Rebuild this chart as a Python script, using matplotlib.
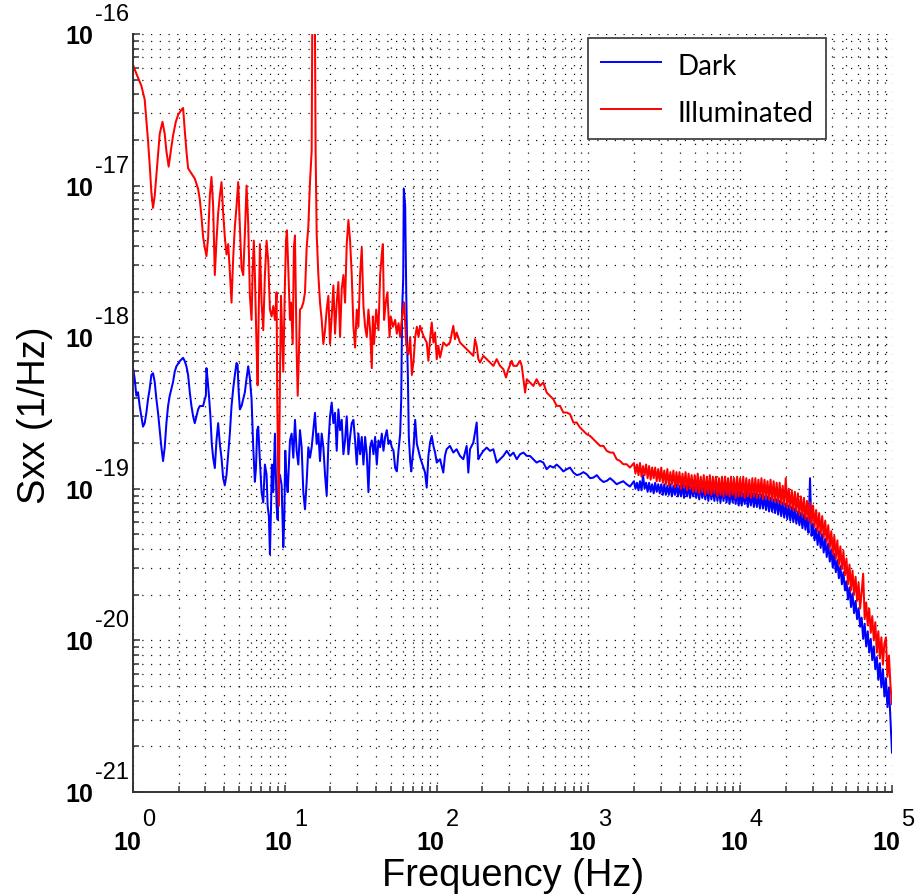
import numpy as np
import matplotlib
matplotlib.use("Agg")
import matplotlib.pyplot as plt
import matplotlib.transforms as mtransforms
from matplotlib.ticker import LogLocator, NullFormatter

# ---------------- data (log10 values) ----------------
# Illuminated (red), low / mid frequency part: log10(f / Hz) and log10(Sxx)
illum_freq_exp = [
    0.000, 0.022, 0.055, 0.077, 0.088, 0.099, 0.110, 0.121, 0.132, 0.143,
    0.154, 0.165, 0.176, 0.194, 0.209, 0.220, 0.235, 0.249, 0.264, 0.282,
    0.297, 0.319, 0.330, 0.341, 0.352, 0.363, 0.385, 0.407, 0.429, 0.440,
    0.451, 0.462, 0.473, 0.484, 0.495, 0.506, 0.517, 0.528, 0.539, 0.550,
    0.561, 0.572, 0.583, 0.594, 0.605, 0.616, 0.627, 0.638, 0.649, 0.660,
    0.671, 0.682, 0.693, 0.704, 0.715, 0.726, 0.737, 0.748, 0.759, 0.770,
    0.781, 0.788, 0.796, 0.803, 0.814, 0.821, 0.827, 0.836, 0.847, 0.858,
    0.869, 0.880, 0.891, 0.902, 0.913, 0.924, 0.935, 0.946, 0.950, 0.957,
    0.961, 0.968, 0.975, 0.981, 0.990, 1.001, 1.008, 1.014, 1.023, 1.034,
    1.041, 1.052, 1.060, 1.067, 1.078, 1.085, 1.093, 1.100, 1.111, 1.122,
    1.133, 1.144, 1.155, 1.166, 1.177, 1.184, 1.195, 1.203, 1.210, 1.221,
    1.232, 1.243, 1.254, 1.265, 1.276, 1.287, 1.298, 1.309, 1.320, 1.331,
    1.342, 1.353, 1.364, 1.375, 1.386, 1.397, 1.408, 1.419, 1.430, 1.441,
    1.452, 1.463, 1.474, 1.485, 1.496, 1.507, 1.518, 1.529, 1.540, 1.551,
    1.562, 1.573, 1.580, 1.588, 1.602, 1.617, 1.628, 1.639, 1.646, 1.654,
    1.665, 1.676, 1.690, 1.698, 1.712, 1.727, 1.738, 1.749, 1.760, 1.773,
    1.786, 1.800, 1.815, 1.826, 1.837, 1.848, 1.859, 1.870, 1.881,
    1.891, 1.913, 1.935, 1.946, 1.957, 1.968, 1.979, 1.990, 2.001, 2.012,
    2.023, 2.044, 2.066, 2.088, 2.110, 2.121, 2.132, 2.154, 2.176, 2.198,
    2.220, 2.242, 2.253, 2.264, 2.275, 2.286, 2.308, 2.330, 2.352, 2.374,
    2.396, 2.418, 2.440, 2.457, 2.473, 2.495, 2.506, 2.528, 2.550, 2.561,
    2.572, 2.583, 2.594, 2.615, 2.637, 2.659, 2.681, 2.703, 2.725, 2.747,
    2.769, 2.791, 2.813, 2.835, 2.857, 2.879, 2.901, 2.923, 2.945, 2.967,
    2.989, 3.011, 3.033, 3.055, 3.077, 3.099, 3.121, 3.143, 3.164, 3.186,
    3.208, 3.230, 3.252, 3.274,
]
illum_sxx_exp = [
    -16.204, -16.261, -16.341, -16.432, -16.568, -16.704, -16.863, -17.045, -17.147, -17.068,
    -16.932, -16.795, -16.659, -16.579, -16.659, -16.772, -16.875, -16.772, -16.670, -16.579,
    -16.534, -16.500, -16.488, -16.636, -16.772, -16.886, -16.920, -16.954, -17.022, -17.091,
    -17.204, -17.340, -17.409, -17.465, -17.340, -17.068, -16.943, -17.136, -17.590, -17.363,
    -17.181, -17.068, -16.977, -17.181, -17.340, -17.454, -17.386, -17.568, -17.772, -17.477,
    -17.272, -17.136, -16.977, -17.272, -17.545, -17.590, -17.318, -17.000, -17.250, -17.727,
    -17.886, -17.568, -17.363, -17.590, -18.068, -18.317, -17.908, -17.386, -17.772, -17.954,
    -17.590, -17.363, -17.500, -17.818, -17.863, -17.795, -17.886, -17.704, -18.386, -18.954,
    -19.113, -18.272, -17.727, -17.931, -18.227, -17.636, -17.363, -17.295, -17.545, -17.886,
    -17.772, -18.045, -17.409, -17.329, -18.090, -18.386, -18.113, -17.818, -17.806, -17.772,
    -17.704, -17.409, -17.272, -16.977, -16.772, -15.300, -15.300, -16.772, -17.318, -17.590,
    -17.772, -17.886, -18.045, -17.954, -17.818, -17.727, -18.045, -17.863, -17.659, -17.977,
    -17.772, -17.636, -17.999, -17.681, -17.590, -17.772, -17.386, -17.227, -17.363, -17.590,
    -17.931, -18.068, -17.818, -17.931, -17.590, -17.409, -17.795, -17.931, -17.999, -17.818,
    -17.954, -18.204, -17.863, -18.045, -17.818, -17.954, -17.590, -17.454, -17.386, -17.886,
    -17.772, -17.704, -17.999, -17.863, -17.931, -17.886, -17.977, -17.908, -17.999, -17.863,
    -17.772, -18.045, -18.113, -17.999, -18.249, -18.158, -17.999, -17.931, -17.999,
    -17.925, -17.991, -18.035, -18.156, -18.013, -17.903, -18.035, -17.969, -18.145, -18.057,
    -18.134, -18.035, -18.057, -18.035, -17.925, -18.013, -17.969, -18.035, -18.057, -18.079,
    -18.101, -18.123, -18.013, -18.057, -18.145, -18.167, -18.123, -18.145, -18.167, -18.189,
    -18.145, -18.189, -18.211, -18.266, -18.211, -18.156, -18.189, -18.189, -18.156, -18.189,
    -18.277, -18.365, -18.277, -18.299, -18.321, -18.277, -18.321, -18.299, -18.365, -18.387,
    -18.409, -18.453, -18.453, -18.497, -18.497, -18.508, -18.563, -18.563, -18.596, -18.618,
    -18.640, -18.651, -18.673, -18.695, -18.717, -18.717, -18.750, -18.761, -18.761, -18.805,
    -18.816, -18.838, -18.838, -18.860,
]

# Dark (blue), low / mid frequency part
dark_freq_exp = [
    0.000, 0.011, 0.022, 0.033, 0.044, 0.055, 0.066, 0.077, 0.088, 0.099,
    0.110, 0.121, 0.132, 0.143, 0.154, 0.165, 0.176, 0.187, 0.198, 0.209,
    0.220, 0.231, 0.242, 0.253, 0.264, 0.275, 0.286, 0.308, 0.330, 0.341,
    0.352, 0.363, 0.374, 0.385, 0.396, 0.407, 0.418, 0.429, 0.440, 0.462,
    0.473, 0.480, 0.484, 0.491, 0.502, 0.510, 0.519, 0.528, 0.539, 0.550,
    0.561, 0.572, 0.583, 0.594, 0.605, 0.616, 0.627, 0.638, 0.649, 0.660,
    0.671, 0.682, 0.689, 0.695, 0.704, 0.715, 0.726, 0.737, 0.748, 0.759,
    0.770, 0.781, 0.792, 0.803, 0.810, 0.818, 0.825, 0.836, 0.847, 0.858,
    0.869, 0.880, 0.887, 0.895, 0.902, 0.909, 0.915, 0.924, 0.935, 0.946,
    0.953, 0.959, 0.968, 0.979, 0.990, 0.997, 1.003, 1.012, 1.019, 1.027,
    1.034, 1.045, 1.056, 1.067, 1.078, 1.089, 1.100, 1.111, 1.122, 1.133,
    1.144, 1.155, 1.166, 1.177, 1.188, 1.199, 1.210, 1.221, 1.232, 1.243,
    1.254, 1.265, 1.276, 1.287, 1.298, 1.309, 1.320, 1.331, 1.342, 1.353,
    1.364, 1.375, 1.386, 1.397, 1.408, 1.419, 1.430, 1.441, 1.452, 1.463,
    1.474, 1.485, 1.496, 1.507, 1.518, 1.529, 1.540, 1.551, 1.562, 1.573,
    1.584, 1.595, 1.606, 1.617, 1.628, 1.639, 1.650, 1.661, 1.672, 1.683,
    1.694, 1.705, 1.716, 1.727, 1.738, 1.749, 1.760, 1.767, 1.773, 1.780,
    1.784, 1.793, 1.800, 1.804, 1.811, 1.817, 1.826, 1.833, 1.839, 1.848,
    1.859, 1.870, 1.881, 1.892,
    1.924, 1.935, 1.946, 1.957, 1.968, 1.979, 1.990, 2.001, 2.023, 2.044,
    2.055, 2.066, 2.088, 2.110, 2.132, 2.154, 2.176, 2.198, 2.209, 2.220,
    2.242, 2.264, 2.275, 2.286, 2.308, 2.330, 2.352, 2.374, 2.396, 2.418,
    2.440, 2.462, 2.484, 2.506, 2.528, 2.550, 2.572, 2.594, 2.615, 2.637,
    2.659, 2.681, 2.703, 2.725, 2.747, 2.769, 2.791, 2.813, 2.835, 2.857,
    2.879, 2.901, 2.923, 2.945, 2.967, 2.989, 3.011, 3.033, 3.055, 3.077,
    3.099, 3.121, 3.143, 3.164, 3.186, 3.208, 3.230, 3.252, 3.274,
]
dark_sxx_exp = [
    -18.204, -18.272, -18.386, -18.363, -18.454, -18.522, -18.590, -18.567, -18.499, -18.408,
    -18.340, -18.249, -18.238, -18.295, -18.408, -18.499, -18.613, -18.726, -18.817, -18.726,
    -18.567, -18.454, -18.386, -18.340, -18.295, -18.227, -18.192, -18.158, -18.136, -18.158,
    -18.192, -18.249, -18.363, -18.454, -18.522, -18.567, -18.522, -18.476, -18.454, -18.454,
    -18.408, -18.386, -18.204, -18.272, -18.408, -18.522, -18.704, -18.795, -18.863, -18.681,
    -18.567, -18.704, -18.795, -18.931, -18.976, -18.908, -18.772, -18.636, -18.454, -18.340,
    -18.249, -18.170, -18.181, -18.340, -18.476, -18.454, -18.408, -18.363, -18.272, -18.192,
    -18.272, -18.408, -18.726, -18.954, -18.863, -18.613, -18.590, -18.817, -19.022, -19.090,
    -18.840, -18.908, -19.113, -19.181, -19.431, -19.135, -18.840, -19.022, -18.636, -19.113,
    -19.204, -18.954, -18.908, -18.976, -19.385, -19.181, -18.749, -18.954, -19.022, -18.840,
    -18.681, -18.636, -18.795, -18.545, -18.749, -18.840, -18.613, -18.726, -19.022, -19.135,
    -18.954, -18.726, -18.795, -18.726, -18.613, -18.499, -18.704, -18.636, -18.817, -18.636,
    -18.726, -18.908, -19.044, -18.704, -18.522, -18.431, -18.567, -18.499, -18.749, -18.476,
    -18.613, -18.545, -18.772, -18.681, -18.522, -18.772, -18.658, -18.567, -18.545, -18.681,
    -18.840, -18.636, -18.772, -18.658, -18.840, -18.658, -18.772, -19.022, -18.726, -18.681,
    -18.772, -18.658, -18.840, -18.681, -18.726, -18.636, -18.749, -18.658, -18.613, -18.704,
    -18.681, -18.726, -18.749, -18.863, -18.885, -18.749, -18.636, -18.408, -17.818, -17.613,
    -17.022, -17.136, -17.704, -17.954, -18.272, -18.658, -18.817, -18.885, -18.817, -18.726,
    -18.545, -18.704, -18.749, -18.795,
    -18.893, -18.992, -18.783, -18.695, -18.651, -18.717, -18.761, -18.827, -18.805, -18.893,
    -18.783, -18.739, -18.717, -18.761, -18.739, -18.783, -18.805, -18.717, -18.893, -18.739,
    -18.695, -18.563, -18.805, -18.783, -18.750, -18.728, -18.750, -18.739, -18.827, -18.805,
    -18.783, -18.750, -18.783, -18.761, -18.805, -18.772, -18.761, -18.783, -18.783, -18.805,
    -18.827, -18.816, -18.827, -18.871, -18.849, -18.860, -18.840, -18.860, -18.885, -18.871,
    -18.860, -18.893, -18.910, -18.904, -18.890, -18.904, -18.930, -18.926, -18.910, -18.937,
    -18.955, -18.948, -18.930, -18.948, -18.970, -18.959, -18.950, -18.970, -18.985,
]

# High-frequency part (dense noisy band), shared frequency grid
band_freq_exp = [
    3.30, 3.31, 3.32, 3.33, 3.34, 3.35, 3.36, 3.37, 3.38, 3.39,
    3.40, 3.41, 3.42, 3.43, 3.44, 3.45, 3.46, 3.47, 3.48, 3.49,
    3.50, 3.51, 3.52, 3.53, 3.54, 3.55, 3.56, 3.57, 3.58, 3.59,
    3.60, 3.61, 3.62, 3.63, 3.64, 3.65, 3.66, 3.67, 3.68, 3.69,
    3.70, 3.71, 3.72, 3.73, 3.74, 3.75, 3.76, 3.77, 3.78, 3.79,
    3.80, 3.81, 3.82, 3.83, 3.84, 3.85, 3.86, 3.87, 3.88, 3.89,
    3.90, 3.91, 3.92, 3.93, 3.94, 3.95, 3.96, 3.97, 3.98, 3.99,
    4.00, 4.01, 4.02, 4.03, 4.04, 4.05, 4.06, 4.07, 4.08, 4.09,
    4.10, 4.11, 4.12, 4.13, 4.14, 4.15, 4.16, 4.17, 4.18, 4.19,
    4.20, 4.21, 4.22, 4.23, 4.24, 4.25, 4.26, 4.27, 4.28, 4.29,
    4.30, 4.31, 4.32, 4.33, 4.34, 4.35, 4.36, 4.37, 4.38, 4.39,
    4.40, 4.41, 4.42, 4.43, 4.44, 4.45, 4.46, 4.47, 4.48, 4.49,
    4.50, 4.51, 4.52, 4.53, 4.54, 4.55, 4.56, 4.57, 4.58, 4.59,
    4.60, 4.61, 4.62, 4.63, 4.64, 4.65, 4.66, 4.67, 4.68, 4.69,
    4.70, 4.71, 4.72, 4.73, 4.74, 4.75, 4.76, 4.77, 4.78, 4.79,
    4.80, 4.81, 4.82, 4.83, 4.84, 4.85, 4.86, 4.87, 4.88, 4.89,
    4.90, 4.91, 4.92, 4.93, 4.94, 4.95, 4.96, 4.97, 4.98, 4.99,
    5.00,
]
illum_band_sxx_exp = [
    -18.83, -18.90, -18.84, -18.91, -18.83, -18.92, -18.85, -18.91, -18.84, -18.93,
    -18.85, -18.94, -18.86, -18.93, -18.86, -18.95, -18.87, -18.95, -18.86, -18.96,
    -18.88, -18.97, -18.87, -18.98, -18.89, -18.97, -18.88, -18.99, -18.89, -18.98,
    -18.89, -19.00, -18.90, -18.99, -18.89, -19.01, -18.90, -19.00, -18.91, -19.02,
    -18.91, -19.02, -18.90, -19.03, -18.92, -19.02, -18.91, -19.04, -18.92, -19.03,
    -18.91, -19.04, -18.92, -19.03, -18.92, -19.05, -18.93, -19.04, -18.92, -19.05,
    -18.92, -19.04, -18.93, -19.05, -18.92, -19.04, -18.93, -19.06, -18.92, -19.05,
    -18.93, -19.05, -18.92, -19.06, -18.93, -19.05, -18.94, -19.06, -18.93, -19.05,
    -18.93, -19.06, -18.94, -19.05, -18.93, -19.07, -18.94, -19.06, -18.95, -19.07,
    -18.94, -19.08, -18.95, -19.08, -18.96, -19.09, -18.96, -19.10, -18.98, -19.11,
    -18.93, -19.12, -19.00, -19.13, -19.01, -19.14, -19.02, -19.15, -19.03, -19.17,
    -19.05, -19.18, -19.06, -19.20, -19.08, -19.21, -19.09, -19.23, -19.11, -19.25,
    -19.14, -19.28, -19.16, -19.30, -19.18, -19.32, -19.21, -19.35, -19.24, -19.39,
    -19.28, -19.43, -19.31, -19.46, -19.34, -19.50, -19.38, -19.53, -19.41, -19.57,
    -19.46, -19.63, -19.50, -19.67, -19.54, -19.70, -19.58, -19.74, -19.62, -19.79,
    -19.68, -19.56, -19.86, -19.75, -19.90, -19.79, -19.95, -19.84, -20.00, -19.88,
    -20.08, -19.94, -20.12, -19.98, -20.16, -20.02, -19.98, -20.24, -20.10, -20.30,
    -20.42,
]
dark_band_sxx_exp = [
    -18.95, -19.00, -18.96, -19.01, -18.95, -19.01, -18.91, -19.00, -18.96, -19.02,
    -18.96, -19.02, -18.97, -19.03, -18.96, -19.02, -18.97, -19.03, -18.97, -19.04,
    -18.97, -19.04, -18.98, -19.04, -18.97, -19.05, -18.98, -19.04, -18.97, -19.05,
    -18.98, -19.05, -18.97, -19.06, -18.98, -19.05, -18.98, -19.06, -18.99, -19.05,
    -18.98, -19.06, -18.99, -19.07, -18.98, -19.06, -18.99, -19.07, -18.99, -19.08,
    -18.99, -19.07, -19.00, -19.08, -18.99, -19.08, -19.00, -19.09, -19.00, -19.08,
    -19.00, -19.09, -19.01, -19.10, -19.01, -19.09, -19.02, -19.10, -19.02, -19.11,
    -19.02, -19.11, -19.03, -19.10, -19.02, -19.12, -19.03, -19.11, -19.03, -19.12,
    -19.03, -19.12, -19.04, -19.13, -19.04, -19.13, -19.05, -19.14, -19.05, -19.15,
    -19.06, -19.15, -19.07, -19.16, -19.07, -19.17, -19.08, -19.18, -19.09, -19.19,
    -19.10, -19.20, -19.11, -19.21, -19.12, -19.22, -19.13, -19.23, -19.15, -19.24,
    -19.16, -19.26, -19.17, -19.27, -19.19, -19.29, -18.93, -19.31, -19.23, -19.34,
    -19.26, -19.37, -19.28, -19.39, -19.30, -19.42, -19.33, -19.45, -19.36, -19.48,
    -19.40, -19.52, -19.43, -19.55, -19.47, -19.59, -19.51, -19.63, -19.55, -19.67,
    -19.61, -19.73, -19.65, -19.78, -19.69, -19.82, -19.74, -19.86, -19.79, -19.91,
    -19.85, -19.99, -19.89, -20.04, -19.94, -20.08, -19.99, -20.13, -20.04, -20.19,
    -20.11, -20.26, -20.15, -20.31, -20.19, -20.37, -20.25, -20.44, -20.31, -20.52,
    -20.74,
]

series_labels = ["Dark", "Illuminated"]
series_colors = ["#0000ff", "#ff0000"]
x_tick_exponents = [0, 1, 2, 3, 4, 5]
y_tick_exponents = [-21, -20, -19, -18, -17, -16]

assert len(illum_freq_exp) == len(illum_sxx_exp), (len(illum_freq_exp), len(illum_sxx_exp))
assert len(dark_freq_exp) == len(dark_sxx_exp), (len(dark_freq_exp), len(dark_sxx_exp))
assert len(band_freq_exp) == len(illum_band_sxx_exp) == len(dark_band_sxx_exp)

dark_f = 10.0 ** np.concatenate([dark_freq_exp, band_freq_exp])
dark_s = 10.0 ** np.concatenate([dark_sxx_exp, dark_band_sxx_exp])
illum_f = 10.0 ** np.concatenate([illum_freq_exp, band_freq_exp])
illum_s = 10.0 ** np.concatenate([illum_sxx_exp, illum_band_sxx_exp])

# ---------------- figure ----------------
W, H = 918, 895
fig = plt.figure(figsize=(W / 100, H / 100), dpi=100)
fig.patch.set_facecolor("white")
ax_l, ax_r, ax_t, ax_b = 133, 892, 35, 793
ax = fig.add_axes([ax_l / W, 1 - ax_b / H, (ax_r - ax_l) / W, (ax_b - ax_t) / H])
ax.set_xscale("log")
ax.set_yscale("log")
ax.set_xlim(10.0 ** x_tick_exponents[0], 10.0 ** x_tick_exponents[-1])
ax.set_ylim(10.0 ** y_tick_exponents[0], 10.0 ** y_tick_exponents[-1])

ax.plot(dark_f, dark_s, color=series_colors[0], lw=1.45, label=series_labels[0])
ax.plot(illum_f, illum_s, color=series_colors[1], lw=1.45, label=series_labels[1])

for axis in (ax.xaxis, ax.yaxis):
    axis.set_major_locator(LogLocator(base=10, numticks=20))
    axis.set_minor_locator(LogLocator(base=10, subs=np.arange(2, 10), numticks=40))
    axis.set_minor_formatter(NullFormatter())

ax.grid(True, which="both", color="#111111", lw=0.9, ls=(0, (1, 6)))
for side in ("top", "right"):
    ax.spines[side].set_visible(False)
for side in ("left", "bottom"):
    ax.spines[side].set_linewidth(1.4)
    ax.spines[side].set_color("#333333")
ax.tick_params(which="both", direction="in", top=False, right=False,
               labelleft=False, labelbottom=False, width=1.1, color="#333333")
ax.tick_params(which="major", length=5)
ax.tick_params(which="minor", length=4)

base_kw = dict(family=["Liberation Sans", "DejaVu Sans"], weight="bold", size=18, color="black")
exp_kw = dict(family=["Liberation Sans Narrow", "Liberation Sans", "DejaVu Sans"], size=17, color="black")

for e in y_tick_exponents:
    tr_b = mtransforms.offset_copy(ax.get_yaxis_transform(), fig=fig, x=-40, y=-9, units="dots")
    ax.text(0, 10.0 ** e, "10", transform=tr_b, ha="right", va="baseline", clip_on=False, **base_kw)
    tr_e = mtransforms.offset_copy(ax.get_yaxis_transform(), fig=fig, x=-38, y=14, units="dots")
    ax.text(0, 10.0 ** e, str(e), transform=tr_e, ha="left", va="baseline", clip_on=False, **exp_kw)

for e in x_tick_exponents:
    tr_b = mtransforms.offset_copy(ax.get_xaxis_transform(), fig=fig, x=-6, y=-57, units="dots")
    ax.text(10.0 ** e, 0, "10", transform=tr_b, ha="center", va="baseline", clip_on=False, **base_kw)
    tr_e = mtransforms.offset_copy(ax.get_xaxis_transform(), fig=fig, x=16, y=-33, units="dots")
    ax.text(10.0 ** e, 0, str(e), transform=tr_e, ha="center", va="baseline", clip_on=False, **exp_kw)

label_kw = dict(family=["Liberation Sans", "DejaVu Sans"], size=27.4, color="black")
ax.set_xlabel("Frequency (Hz)", **label_kw)
ax.xaxis.set_label_coords(0.5007, (ax_b - 886) / (ax_b - ax_t))
ax.xaxis.label.set_verticalalignment("baseline")
ax.set_ylabel("Sxx (1/Hz)", **label_kw)
ax.yaxis.set_label_coords((45 - ax_l) / (ax_r - ax_l), 0.4987)
ax.yaxis.label.set_rotation_mode("anchor")
ax.yaxis.label.set_verticalalignment("baseline")

leg = ax.legend(loc="upper left",
                bbox_to_anchor=((588 - ax_l) / (ax_r - ax_l), (ax_b - 39) / (ax_b - ax_t)),
                borderaxespad=0, frameon=True, fancybox=False, edgecolor="#333333",
                framealpha=1, prop={"family": ["Lato", "DejaVu Sans"], "size": 20},
                handlelength=2.15, handletextpad=0.6, handleheight=1.15,
                borderpad=0.46, labelspacing=0.68)
leg.get_frame().set_linewidth(1.2)
for line in leg.get_lines():
    line.set_linewidth(1.4)

fig.savefig("out.png", dpi=100)
